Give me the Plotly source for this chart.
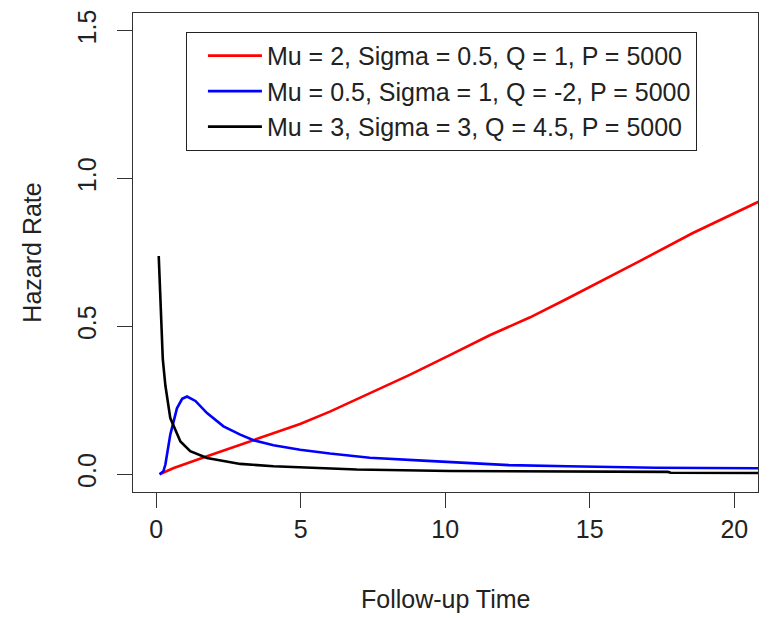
import plotly.graph_objects as go

# Data
red_t = [0.12, 0.61, 1.76, 2.91, 4.06, 4.98, 6.01, 7.39, 8.77, 10.16, 11.54, 12.92, 14.18, 16.71, 18.55, 20.80, 21.2]
red_h = [0.0, 0.021, 0.061, 0.100, 0.139, 0.170, 0.212, 0.275, 0.336, 0.403, 0.470, 0.530, 0.592, 0.720, 0.815, 0.920, 0.94]

blue_t = [0.12, 0.25, 0.32, 0.49, 0.72, 0.90, 1.07, 1.36, 1.76, 2.33, 2.91, 3.37, 4.06, 4.98, 6.01, 7.39, 9.23, 10.6, 12.2, 14.24, 17.29, 21.2]
blue_h = [0.0, 0.010, 0.033, 0.134, 0.223, 0.255, 0.263, 0.248, 0.207, 0.162, 0.134, 0.115, 0.098, 0.083, 0.070, 0.056, 0.046, 0.038, 0.031, 0.027, 0.022, 0.020]

black_t = [0.09, 0.17, 0.23, 0.32, 0.49, 0.84, 1.18, 1.76, 2.91, 4.06, 4.98, 6.94, 10.16, 12.9, 17.7, 17.8, 21.2]
black_h = [0.738, 0.56, 0.39, 0.30, 0.19, 0.111, 0.078, 0.055, 0.035, 0.027, 0.024, 0.016, 0.011, 0.010, 0.008, 0.005, 0.004]

names = [
    "Mu = 2, Sigma = 0.5, Q = 1, P = 5000",
    "Mu = 0.5, Sigma = 1, Q = -2, P = 5000",
    "Mu = 3, Sigma = 3, Q = 4.5, P = 5000",
]

x_ticks = [0, 5, 10, 15, 20]
y_ticks = [0, 0.5, 1.0, 1.5]
y_tick_text = ["0.0", "0.5", "1.0", "1.5"]

FONT = "Liberation Sans, Arial, sans-serif"
FS = 25

fig = go.Figure()
for t, h, c, n in [(red_t, red_h, "#ff0000", names[0]),
                   (blue_t, blue_h, "#0000ff", names[1]),
                   (black_t, black_h, "#000000", names[2])]:
    fig.add_trace(go.Scatter(x=t, y=h, mode="lines", name=n,
                             line=dict(color=c, width=2.6)))

axis_common = dict(showgrid=False, zeroline=False, showline=True, mirror=True,
                   linecolor="#333333", linewidth=1, ticks="outside", ticklen=15,
                   tickcolor="#333333", tickwidth=1,
                   tickfont=dict(family=FONT, size=FS, color="#222222"))

fig.update_xaxes(range=[-0.8, 20.82], tickvals=x_ticks, **axis_common)
fig.update_yaxes(range=[-0.06, 1.56], tickvals=y_ticks, ticktext=y_tick_text,
                 tickangle=-90, ticklabelstandoff=11, **axis_common)

fig.update_layout(
    width=769, height=621,
    margin=dict(l=133, r=10, t=10, b=129),
    plot_bgcolor="white", paper_bgcolor="white",
    font=dict(family=FONT, size=FS, color="#222222"),
    showlegend=True,
    legend=dict(x=0.0847, y=0.9606, xanchor="left", yanchor="top",
                bgcolor="white", bordercolor="#222222", borderwidth=1,
                font=dict(family=FONT, size=FS, color="#222222"),
                itemwidth=54, indentation=16, tracegroupgap=0),
    annotations=[
        dict(text="Follow-up Time", xref="paper", yref="paper", x=0.5, y=-0.224,
             xanchor="center", yanchor="middle", showarrow=False,
             font=dict(family=FONT, size=FS, color="#222222")),
        dict(text="Hazard Rate", xref="paper", yref="paper", x=-0.163, y=0.5,
             xanchor="center", yanchor="middle", showarrow=False, textangle=-90,
             font=dict(family=FONT, size=FS, color="#222222")),
    ],
)

fig.write_html("out.html")
